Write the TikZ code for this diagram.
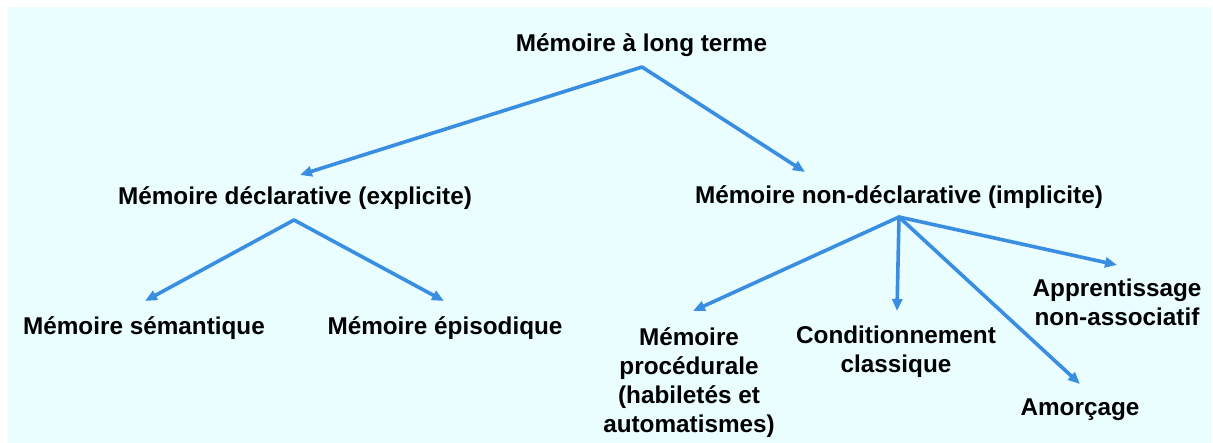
\documentclass[tikz,border=0pt]{standalone}
\usepackage{fontspec}
\setmainfont{Liberation Sans}
\usetikzlibrary{arrows.meta}
\definecolor{bgcyan}{RGB}{234,254,255}
\definecolor{linkblue}{RGB}{58,142,226}
\tikzset{
  lbl/.style={font=\fontsize{24.3}{29}\selectfont\bfseries, text=black, inner sep=0pt, anchor=base, align=center},
  link/.style={draw=linkblue, line width=3.6pt, line cap=round, -{Triangle[length=12pt,width=10pt]}}
}
\begin{document}
\begin{tikzpicture}[x=1pt,y=-1pt]
\useasboundingbox (0,0) rectangle (1213,443);
\fill[bgcyan] (8,7) rectangle (1212,443);
% nodes (anchor = baseline of the last line)
\node[lbl] (ltm) at (641.5,52) {Mémoire à long terme};
\node[lbl] (decl) at (295,205) {Mémoire déclarative (explicite)};
\node[lbl] (ndecl) at (899,204) {Mémoire non-déclarative (implicite)};
\node[lbl] (sem) at (144,335) {Mémoire sémantique};
\node[lbl] (epi) at (445,335) {Mémoire épisodique};
\node[lbl] (proc) at (689,432) {Mémoire\\procédurale\\(habiletés et\\automatismes)};
\node[lbl] (cond) at (896,373) {Conditionnement\\classique};
\node[lbl] (app) at (1117,326) {Apprentissage\\non-associatif};
\node[lbl] (amo) at (1080,416) {Amorçage};
% connector points
\coordinate (ltmR) at (642,67);
\coordinate (declT) at (300,175);
\coordinate (ndeclT) at (805,172);
\coordinate (declR) at (294,220);
\coordinate (semT) at (145,301);
\coordinate (epiT) at (444,301);
\coordinate (ndR) at (899,217);
\coordinate (procT) at (693,311);
\coordinate (condT) at (897,311);
\coordinate (amoT) at (1080,384);
\coordinate (appT) at (1117,265);
% connectors
\draw[link] (ltmR) -- (declT);
\draw[link] (ltmR) -- (ndeclT);
\draw[link] (declR) -- (semT);
\draw[link] (declR) -- (epiT);
\draw[link] (ndR) -- (procT);
\draw[link] (ndR) -- (condT);
\draw[link] (ndR) -- (amoT);
\draw[link] (ndR) -- (appT);
\end{tikzpicture}
\end{document}
